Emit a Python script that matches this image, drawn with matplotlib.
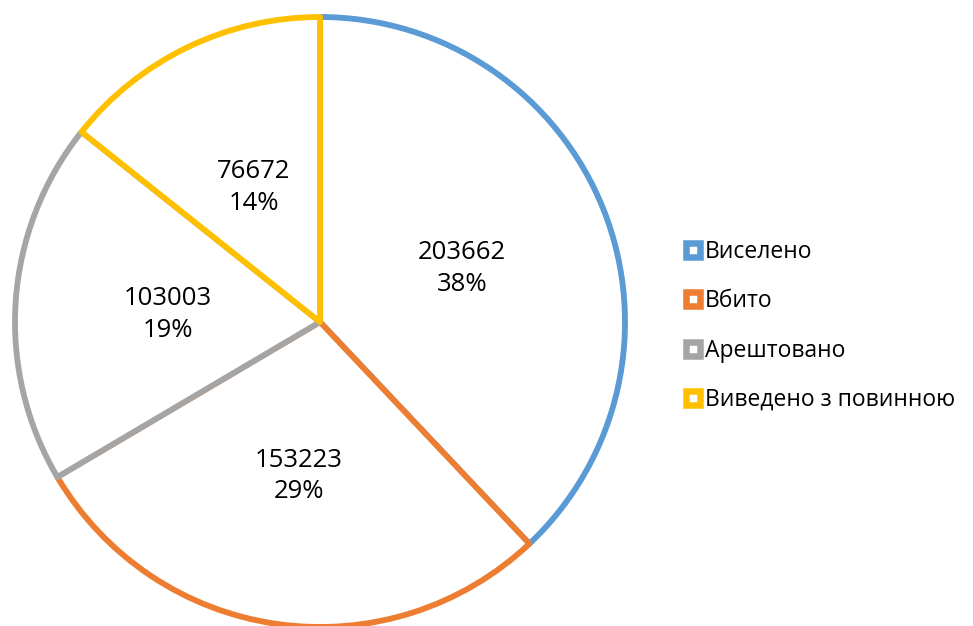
import numpy as np
import matplotlib.pyplot as plt
from matplotlib.lines import Line2D

plt.rcParams['font.family'] = ['Open Sans', 'DejaVu Sans']

# data
labels = ['Виселено', 'Вбито', 'Арештовано', 'Виведено з повинною']
values = [203662, 153223, 103003, 76672]
colors = ['#5b9bd5', '#ed7d31', '#a5a5a5', '#ffc000']

total = sum(values)

fig = plt.figure(figsize=(9.73, 6.26), dpi=100)
ax = fig.add_axes([0, 0, 1, 1])

cx, cy, r = 320, 304, 305
wedges = ax.pie(values, center=(cx, cy), radius=r,
                startangle=90, counterclock=False,
                colors=['white'] * 4,
                wedgeprops=dict(linewidth=4.2, joinstyle='round'))[0]
for w, c in zip(wedges, colors):
    w.set_edgecolor(c)

# pie() resets limits, so set pixel-like coords afterwards
ax.set_xlim(0, 973)
ax.set_ylim(0, 626)
ax.set_aspect('equal')
ax.axis('off')

# value labels at half radius
for w, v in zip(wedges, values):
    ang = np.deg2rad((w.theta1 + w.theta2) / 2)
    x = cx + 0.5 * r * np.cos(ang)
    y = cy + 0.5 * r * np.sin(ang) - 3
    ax.text(x, y, f"{v}\n{v / total * 100:.0f}%", ha='center', va='center',
            fontsize=18.5, linespacing=1.35, color='black')

handles = [Line2D([], [], linestyle='none', marker='s', markersize=10.4,
                  markerfacecolor='white', markeredgecolor=c,
                  markeredgewidth=4.7) for c in colors]
fig.legend(handles, labels, loc='center left',
           bbox_to_anchor=(672 / 973, 1 - 326 / 626), frameon=False,
           fontsize=16.5, handlelength=0.8, handletextpad=0.15,
           labelspacing=1.1, borderpad=0)

fig.savefig('out.png', dpi=100)
